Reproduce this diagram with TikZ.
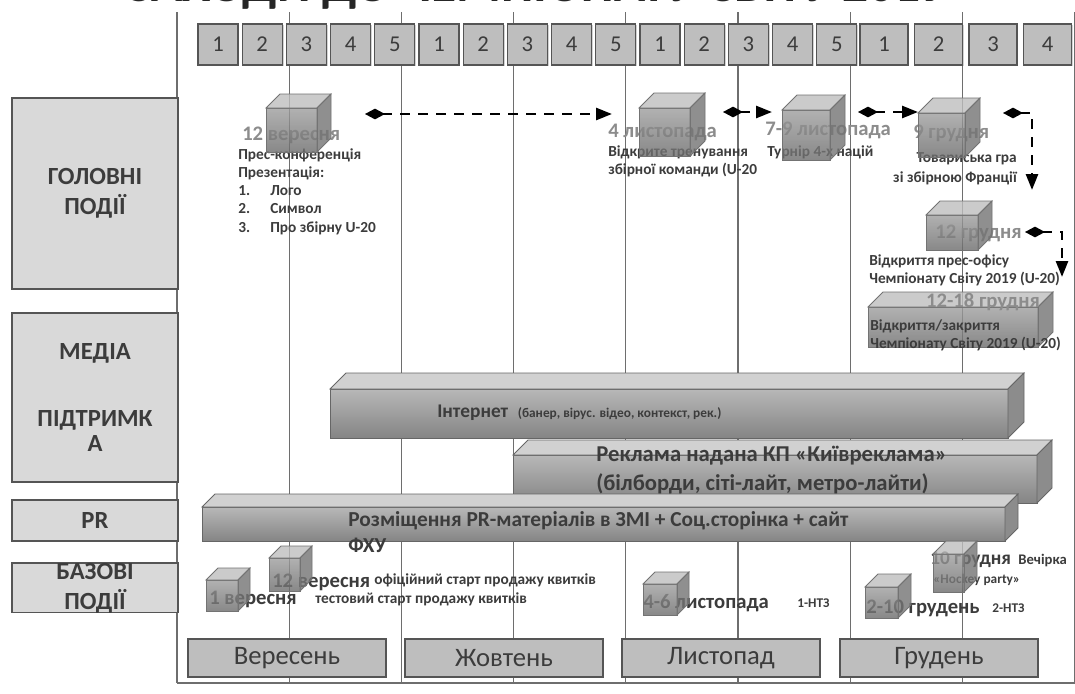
\documentclass[tikz,border=0pt]{standalone}
\usepackage{fontspec}
\setmainfont{Carlito}
\usetikzlibrary{arrows.meta, shadows}

\definecolor{catfill}{HTML}{D9D9D9}
\definecolor{weekfill}{HTML}{BEBEBE}
\definecolor{edgegray}{HTML}{555555}
\definecolor{inkgray}{HTML}{3C3C3C}
\definecolor{dategray}{HTML}{8C8C8C}
\definecolor{gridgray}{HTML}{6E6E6E}

% kind, name, x, y (front top left), width, height, depth
\newcommand{\blok}[7]{%
  \node[#1front, minimum width=#5*0.75pt, minimum height=#6*0.75pt] (#2) at (#3,#4) {};
  \filldraw[#1top] (#2.north west) -- ++(#7,-#7) -- ++(#5,0) -- (#2.north east) -- cycle;
  \filldraw[#1side] (#2.north east) -- ++(#7,-#7) -- ++(0,#6) -- (#2.south east) -- cycle;}

\begin{document}
\begin{tikzpicture}[
          x=0.75pt, y=-0.75pt,
          sepline/.style={gridgray, line width=0.9pt},
          headtxt/.style={inner sep=0pt, text=black!85,
                          font=\bfseries\fontsize{38.5}{44}\selectfont},
          cat/.style={draw=edgegray, fill=catfill, line width=0.8pt, anchor=north west,
                      inner sep=0pt, outer sep=0pt, minimum width=166*0.75pt,
                      font=\bfseries\fontsize{18.5}{22.5}\selectfont, text=inkgray,
                      align=center},
          week/.style={draw=edgegray, fill=weekfill, line width=0.8pt, anchor=north west,
                       inner sep=0pt, outer sep=0pt, minimum height=41*0.75pt,
                       text=inkgray, font=\fontsize{17}{20}\selectfont,
                       drop shadow={shadow xshift=1pt, shadow yshift=-1pt, opacity=0.35}},
          month/.style={week, minimum width=198*0.75pt, minimum height=38*0.75pt,
                        font=\fontsize{20}{24}\selectfont},
          datelbl/.style={anchor=west, inner sep=0pt, text=dategray,
                          font=\bfseries\fontsize{15.5}{18}\selectfont},
          baselbl/.style={datelbl, text=inkgray},
          note/.style={inner sep=0pt, text=inkgray,
                       font=\bfseries\fontsize{11.5}{13.7}\selectfont},
          smallnote/.style={note, anchor=west, font=\bfseries\fontsize{11.5}{13}\selectfont},
          bartxt/.style={inner sep=0pt, text=inkgray,
                         font=\bfseries\fontsize{16}{19.5}\selectfont},
          evarrow/.style={line width=2pt, black, dash pattern=on 7.5pt off 6pt,
                          {Diamond[length=15pt, width=8pt]}-{Triangle[length=12pt, width=9pt]}},
          cubefront/.style={draw=black!55, line width=0.6pt, top color=black!38,
                            bottom color=black!58, fill opacity=0.8, anchor=north west,
                            inner sep=0pt, outer sep=0pt},
          cubetop/.style={draw=black!55, line width=0.6pt, fill=black!25, fill opacity=0.8},
          cubeside/.style={draw=black!55, line width=0.6pt, fill=black!55, fill opacity=0.8},
          barfront/.style={draw=black!60, line width=0.6pt, top color=black!28,
                           bottom color=black!48, anchor=north west,
                           inner sep=0pt, outer sep=0pt},
          bartop/.style={draw=black!60, line width=0.6pt, fill=black!18},
          barside/.style={draw=black!60, line width=0.6pt, fill=black!45}
        ]
          \useasboundingbox (0,0) rectangle (1075,693);
          \fill[white] (0,0) rectangle (1075,693);

          % title, only its foot shows
          \node[headtxt, anchor=base] (head) at (537,1) {ЗАХОДИ ДО ЧЕМПІОНАТУ СВІТУ 2019};

          % grid of weeks
          \foreach \k in {0,...,8}
            \draw[sepline] (177+112.2*\k,12) -- (177+112.2*\k,683);
          \draw[sepline] (177,683) -- (1075,683);

          \foreach \n [count=\i from 0] in {1,2,3,4,5,1,2,3,4,5,1,2,3,4,5}
            \node[week, minimum width=40*0.75pt] (wk\i) at (198+44.2*\i,24) {\n};
          \foreach \n [count=\i from 0] in {1,2,3,4}
            \node[week, minimum width=48*0.75pt] (wkd\i) at (860+54.5*\i,24) {\n};

          \node[month] (sep) at (188,639) {Вересень};
          \node[month] (oct) at (405,639) {Жовтень};
          \node[month] (nov) at (622,639) {Листопад};
          \node[month] (dcm) at (840,639) {Грудень};

          % rows
          \node[cat, minimum height=191*0.75pt] (golovni) at (12,98) {ГОЛОВНІ\\ПОДІЇ};
          \node[cat, minimum height=169*0.75pt] (media) at (12,313)
            {МЕДІА\\[28pt]ПІДТРИМК\\[-4pt]А};
          \node[cat, minimum height=41*0.75pt] (pr) at (12,500) {PR};
          \node[cat, minimum height=45*0.75pt] (bazovi) at (12,563) {БАЗОВІ\\ПОДІЇ};

          % main events
          \node[datelbl] (d1) at (242,135) {12 вересня};
          \node[note, anchor=north west, align=left] (n1) at (238,148)
            {Прес-конференція\\Презентація:\\\makebox[24pt][l]{1.}Лого\\
             \makebox[24pt][l]{2.}Символ\\\makebox[24pt][l]{3.}Про збірну U-20};
          \blok{cube}{c1}{266}{108}{51}{44}{14}
          \coordinate (p1) at (365,114);
          \coordinate (p2) at (612,114);
          \draw[evarrow] (p1) -- (p2);

          \node[datelbl] (d2) at (608,132) {4 листопада};
          \node[note, anchor=north west, align=left] (n2) at (608,145)
            {Відкрите тренування\\збірної команди (U-20};
          \blok{cube}{c2}{639}{108}{51}{48}{15}
          \coordinate (p3) at (723,112);
          \coordinate (p4) at (772,112);
          \draw[evarrow] (p3) -- (p4);

          \node[datelbl] (d3) at (765,130) {7-9 листопада};
          \node[note, anchor=west] (n3) at (767,152) {Турнір 4-х націй};
          \blok{cube}{c3}{782}{110}{48}{50}{15}
          \coordinate (p5) at (858,112);
          \coordinate (p6) at (918,112);
          \draw[evarrow] (p5) -- (p6);

          \node[datelbl] (d4) at (913,133) {9 грудня};
          \node[note, anchor=north east, align=right,
                font=\bfseries\fontsize{11.5}{15}\selectfont] (n4) at (1017,152)
            {Товариська гра\\зі збірною Франції};
          \blok{cube}{c4}{918}{113}{47}{44}{15}
          \coordinate (p7) at (1003,113);
          \coordinate (p8) at (1032,190);
          \draw[evarrow] (p7) -| (p8);

          \node[datelbl] (d5) at (935,233) {12 грудня};
          \node[note, anchor=north west, align=left] (n5) at (869,254)
            {Відкриття прес-офісу\\Чемпіонату Світу 2019 (U-20)};
          \blok{cube}{c5}{926}{215}{52}{35}{14}
          \coordinate (p9) at (1025,232);
          \coordinate (p10) at (1062,277);
          \draw[evarrow] (p9) -| (p10);

          \blok{cube}{c6}{868}{307}{170}{40}{15}
          \node[datelbl, anchor=center] (d6) at (983,302) {12-18 грудня};
          \node[note, anchor=north west, align=left] (n6) at (870,319)
            {Відкриття/закриття\\Чемпіонату Світу 2019 (U-20)};

          % media bars
          \blok{bar}{inet}{330}{389}{678}{49}{16}
          \node[bartxt, anchor=west] (inettxt) at (437,413)
            {{\fontsize{14.5}{17}\selectfont Інтернет}\ \ {\fontsize{10}{12}\selectfont(банер, вірус. відео, контекст, рек.)}};
          \blok{bar}{rekl}{513}{455}{524}{48}{15}
          \node[bartxt, anchor=north west, align=left,
                font=\bfseries\fontsize{17}{21.75}\selectfont] (rekltxt) at (596,446)
            {Реклама надана КП «Київреклама»\\(білборди, сіті-лайт, метро-лайти)};
          \blok{bar}{prbar}{202}{507}{803}{34}{13}
          \node[bartxt, anchor=north west, align=left] (prtxt) at (348,511)
            {Розміщення PR-матеріалів в ЗМІ + Соц.сторінка + сайт\\ФХУ};

          % base events
          \node[baselbl] (e1) at (209,599) {1 вересня};
          \node[smallnote] (e1n) at (315,599) {тестовий старт продажу квитків};
          \blok{cube}{b1}{206}{580}{32}{31}{12}

          \node[baselbl] (e2) at (272,582) {12 вересня};
          \node[smallnote] (e2n) at (374,580) {офіційний старт продажу квитків};
          \blok{cube}{b2}{269}{558}{31}{33}{12}

          \node[baselbl] (e3) at (643,603) {4-6 листопада};
          \node[smallnote, font=\bfseries\fontsize{10}{12}\selectfont] (e3n) at (797,603) {1-НТЗ};
          \blok{cube}{b3}{643}{584}{34}{31}{12}

          \node[baselbl] (e4) at (866,608) {2-10 грудень};
          \node[smallnote, font=\bfseries\fontsize{10}{12}\selectfont] (e4n) at (992,608) {2-НТЗ};
          \blok{cube}{b4}{865}{587}{33}{31}{13}

          \node[baselbl, font=\bfseries\fontsize{14.5}{17}\selectfont] (e5) at (930,560) {10 грудня};
          \node[smallnote, font=\bfseries\fontsize{11}{13}\selectfont] (e5n) at (1018,560) {Вечірка};
          \node[smallnote, font=\bfseries\fontsize{10}{12}\selectfont] (e5h) at (933,580) {«Hockey party»};
          \blok{cube}{b5}{933}{554}{31}{38}{13}
        \end{tikzpicture}
\end{document}
